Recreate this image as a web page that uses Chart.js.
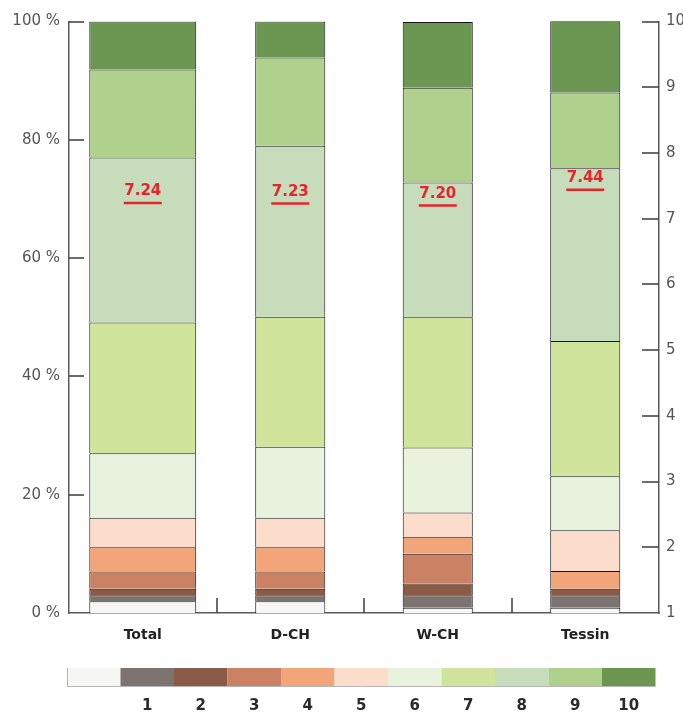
<!DOCTYPE html>
<html>
<head>
<meta charset="utf-8">
<script src="https://cdn.jsdelivr.net/npm/chart.js@4.4.1/dist/chart.umd.min.js"></script>
<style>
  html, body { margin: 0; padding: 0; background: #fff; }
  #wrap { width: 683px; height: 716px; position: relative; }
</style>
</head>
<body>
<div id="wrap"><canvas id="myChart"></canvas></div>
<script>
// ---- data ----
const categories = ['Total', 'D-CH', 'W-CH', 'Tessin'];
const levels = ['', '1', '2', '3', '4', '5', '6', '7', '8', '9', '10'];

// share in % per answer level, order = categories
const share0 = [2.0, 2.0, 0.9, 0.9];
const share1 = [1.0, 1.0, 2.1, 2.1];
const share2 = [1.1, 1.1, 2.0, 1.1];
const share3 = [2.9, 2.9, 5.0, 0];
const share4 = [4.1, 4.1, 2.9, 3.0];
const share5 = [5.0, 5.0, 4.1, 6.9];
const share6 = [10.9, 12.0, 11.0, 9.1];
const share7 = [22.1, 22.0, 22.0, 22.9];
const share8 = [27.9, 28.9, 22.8, 29.2];
const share9 = [14.9, 14.9, 16.0, 12.8];
const share10 = [8.1, 6.1, 11.1, 12.1];

const means = [7.24, 7.23, 7.20, 7.44];

const percentTicks = [0, 20, 40, 60, 80, 100];
const scoreTicks = [1, 2, 3, 4, 5, 6, 7, 8, 9, 10];

// ---- styles ----
const colors = ['#f6f6f4', '#7d7471', '#8b5b48', '#cb8163', '#f1a578', '#fcdccb',
                '#e9f2dc', '#d1e49c', '#c7dcba', '#afd18d', '#6c9752'];
const lineCol = '#151515';
const axisCol = '#5a5a5a';
const red = '#e3262c';
const font = "'DejaVu Sans', sans-serif";

const shares = [share0, share1, share2, share3, share4, share5, share6, share7, share8, share9, share10];

// Total bar is wider than the regional bars -> two dataset sets
var datasets = [];
shares.forEach(function (arr, k) {
    datasets.push({
        label: levels[k],
        data: arr.map(function (v, i) { return i === 0 ? v : null; }),
        backgroundColor: colors[k],
        borderColor: lineCol,
        borderWidth: 1,
        borderSkipped: 'bottom',
        barPercentage: 0.725,
        categoryPercentage: 1,
        yAxisID: 'y'
    });
});
shares.forEach(function (arr, k) {
    datasets.push({
        label: levels[k],
        data: arr.map(function (v, i) { return i === 0 ? null : v; }),
        backgroundColor: colors[k],
        borderColor: lineCol,
        borderWidth: 1,
        borderSkipped: 'bottom',
        barPercentage: 0.475,
        categoryPercentage: 1,
        yAxisID: 'y'
    });
});
datasets.push({
    type: 'line',
    label: 'mean',
    data: means,
    yAxisID: 'y2',
    showLine: false,
    pointStyle: 'line',
    pointRadius: 19,
    pointHoverRadius: 19,
    pointBorderWidth: 2.5,
    pointBorderColor: red,
    pointBackgroundColor: red,
    order: -1
});

// inward tick marks + mean labels + colour legend
const extras = {
    id: 'extras',
    afterDraw: function (chart) {
        const ctx = chart.ctx;
        const x = chart.scales.x, y = chart.scales.y, y2 = chart.scales.y2;
        const a = chart.chartArea;
        ctx.save();
        ctx.strokeStyle = '#3c3c3c';
        ctx.lineWidth = 1.5;
        ctx.beginPath();
        percentTicks.forEach(function (v) {
            if (v === 0) return;
            const py = Math.round(y.getPixelForValue(v));
            ctx.moveTo(a.left, py); ctx.lineTo(a.left + 15, py);
        });
        scoreTicks.forEach(function (v) {
            if (v === 1) return;
            const py = Math.round(y2.getPixelForValue(v));
            ctx.moveTo(a.right - 17, py); ctx.lineTo(a.right, py);
        });
        for (let i = 1; i < categories.length; i++) {
            const px = Math.round((x.getPixelForValue(i - 1) + x.getPixelForValue(i)) / 2);
            ctx.moveTo(px, a.bottom); ctx.lineTo(px, a.bottom - 15);
        }
        ctx.stroke();

        // mean values
        ctx.fillStyle = red;
        ctx.font = 'bold 15px ' + font;
        ctx.textAlign = 'center';
        ctx.textBaseline = 'bottom';
        means.forEach(function (m, i) {
            ctx.fillText(m.toFixed(2), x.getPixelForValue(i), y2.getPixelForValue(m) - 4);
        });

        // legend strip
        const lx = 67, ly = 668, lw = 53.5, lh = 18;
        colors.forEach(function (c, k) {
            ctx.fillStyle = c;
            ctx.fillRect(lx + k * lw, ly, lw, lh);
        });
        ctx.strokeStyle = '#b5b5b5';
        ctx.lineWidth = 1;
        ctx.beginPath();
        ctx.moveTo(lx, ly + lh + 0.5); ctx.lineTo(lx + colors.length * lw, ly + lh + 0.5);
        ctx.moveTo(lx + 0.5, ly); ctx.lineTo(lx + 0.5, ly + lh);
        ctx.stroke();
        ctx.fillStyle = '#2a2a2a';
        ctx.font = 'bold 15px ' + font;
        ctx.textBaseline = 'middle';
        levels.forEach(function (t, k) {
            if (t) ctx.fillText(t, lx + k * lw + lw / 2, 706);
        });
        ctx.restore();
    }
};

const myChart = new Chart(document.getElementById('myChart'), {
    type: 'bar',
    data: { labels: categories, datasets: datasets },
    options: {
        responsive: true,
        maintainAspectRatio: false,
        animation: false,
        events: [],
        layout: { padding: { top: 18, bottom: 63, left: 0, right: 0 } },
        plugins: { legend: { display: false }, tooltip: { enabled: false } },
        scales: {
            x: {
                stacked: true,
                grid: { display: false, drawTicks: false },
                border: { display: true, color: axisCol, width: 1.5 },
                ticks: { color: '#222', padding: 14, font: { family: font, size: 14, weight: 'bold' } },
                afterFit: function (s) { s.height = 40; }
            },
            y: {
                stacked: true,
                position: 'left',
                min: 0, max: 100,
                grid: { display: false, drawTicks: false },
                border: { display: true, color: axisCol, width: 1.5 },
                ticks: {
                    stepSize: 20, padding: 9, color: '#555',
                    font: { family: font, size: 15 },
                    callback: function (v) { return v + ' %'; }
                },
                afterFit: function (s) { s.width = 69; }
            },
            y2: {
                position: 'right',
                min: 1, max: 10,
                grid: { display: false, drawTicks: false },
                border: { display: true, color: axisCol, width: 1.5 },
                ticks: { stepSize: 1, padding: 7, color: '#555', font: { family: font, size: 15 } },
                afterFit: function (s) { s.width = 24; }
            }
        }
    },
    plugins: [extras]
});
</script>
</body>
</html>
